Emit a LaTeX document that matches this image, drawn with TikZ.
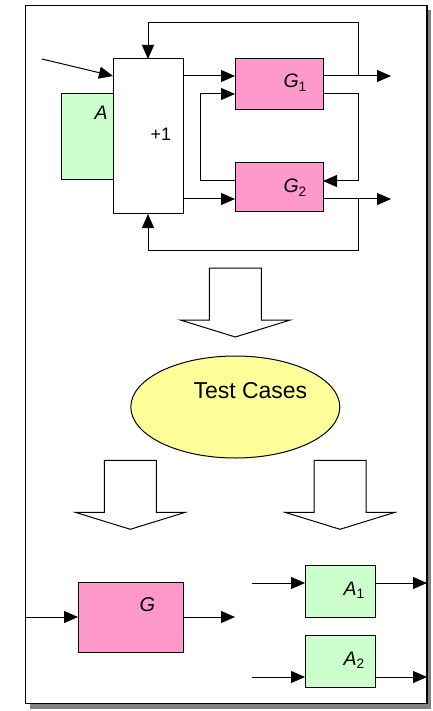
\documentclass[tikz,border=0pt]{standalone}
\usepackage{fontspec}
\setmainfont{Liberation Sans}
\usetikzlibrary{arrows.meta,calc,shapes.geometric}
\definecolor{pinkc}{HTML}{FF99CC}
\definecolor{greenc}{HTML}{CCFFCC}
\definecolor{yellowc}{HTML}{FFFF99}
\definecolor{shadowc}{HTML}{808080}
\tikzset{
  arr/.style={-{Triangle[length=14pt,width=12pt]}},
  box/.style={draw,line width=1pt,inner sep=0pt,outer sep=0pt,anchor=north west},
  pinkbox/.style={box,fill=pinkc},
  greenbox/.style={box,fill=greenc},
  whitebox/.style={box,fill=white},
  lbl/.style={anchor=base west,inner sep=0pt,font=\fontsize{19.5}{20}\selectfont},
  blockdown/.pic={\draw[fill=white,line width=1pt,line join=miter]
    (-26,-69) -- (26,-69) -- (26,-17) -- (55,-17) -- (0,0) -- (-55,-17) -- (-26,-17) -- cycle;}
}
\begin{document}
\begin{tikzpicture}[x=1pt,y=-1pt,line width=1pt]
\useasboundingbox (0,0) rectangle (432,711);
% frame with shadow
\fill[shadowc] (30,10.5) rectangle (431,708.5);
\node[draw,line width=1.3pt,fill=white,inner sep=0pt,outer sep=0pt,anchor=north west,
  minimum width=401.5pt,minimum height=698pt] (frame) at (25.5,5.5) {};

% top diagram boxes
\node[greenbox,minimum width=52pt,minimum height=86pt] (A) at (61,94) {};
\node[whitebox,minimum width=70pt,minimum height=155pt] (plus) at (113,59) {};
\node[pinkbox,minimum width=88pt,minimum height=51pt] (g1) at (235,59) {};
\node[pinkbox,minimum width=88pt,minimum height=49pt] (g2) at (235,163) {};
\node[lbl] (Alab) at (94,120) {\textit{A}};
\node[lbl,font=\fontsize{18}{20}\selectfont] (pluslab) at (150,141) {+1};
\node[lbl] (g1lab) at (283,88) {\textit{G}\textsubscript{1}};
\node[lbl] (g2lab) at (283,193) {\textit{G}\textsubscript{2}};

% top connectors
\coordinate (in0) at (42,59);
\coordinate (out1) at (391,76);
\coordinate (out2) at (391,199);
\draw[arr] (in0) -- ($(plus.north west)+(0,17)$);
\draw[arr] ($(plus.north east)+(0,17)$) -- ($(g1.north west)+(0,17)$);
\draw[arr] ($(plus.north east)+(0,140)$) -- ($(g2.north west)+(0,36)$);
\draw[arr] ($(g1.north east)+(0,17)$) -- (out1);
\draw[arr] ($(g2.north east)+(0,36)$) -- (out2);
\draw[arr] ($(g1.north east)+(35,17)$) -- ++(0,-53) -| (plus.north);
\draw[arr] ($(g2.north east)+(35,36)$) -- ++(0,51) -| (plus.south);
\draw[arr] ($(g1.north east)+(0,35)$) -- ++(35,0) |- ($(g2.north east)+(0,18)$);
\draw[arr] ($(g2.north west)+(0,18)$) -- ++(-35,0) |- ($(g1.north west)+(0,35)$);

% block arrows
\pic at (235.3,337) {blockdown};
\pic at (130.3,529.3) {blockdown};
\pic at (340,529.3) {blockdown};

% test cases
\node[ellipse,draw,line width=1pt,fill=yellowc,inner sep=0pt,minimum width=209pt,minimum height=102pt] (tc) at (235.3,407) {};
\node[lbl,font=\fontsize{23}{24}\selectfont] (tclab) at (193,398) {Test Cases};

% bottom boxes
\node[pinkbox,minimum width=105pt,minimum height=70pt] (G) at (78,582) {};
\node[greenbox,minimum width=70pt,minimum height=52pt] (a1) at (305,565) {};
\node[greenbox,minimum width=70pt,minimum height=52pt] (a2) at (305,635) {};
\node[lbl,font=\fontsize{20}{22}\selectfont] (Glab) at (139,611) {\textit{G}};
\node[lbl] (a1lab) at (343,595) {\textit{A}\textsubscript{1}};
\node[lbl] (a2lab) at (343,665) {\textit{A}\textsubscript{2}};

% bottom connectors
\coordinate (gout) at (235,617);
\coordinate (a1i) at (252,583);
\coordinate (a2i) at (252,677);
\coordinate (a1o) at ($(a1.north east)+(0,18)$);
\coordinate (a2o) at ($(a2.north east)+(0,42)$);
\draw[arr] (frame.west |- G.west) -- (G.west);
\draw[arr] (G.east) -- (gout);
\draw[arr] (a1i) -- (a1.west |- a1i);
\draw[arr] (a2i) -- (a2.west |- a2i);
\draw[arr] (a1o) -- (frame.east |- a1o);
\draw[arr] (a2o) -- (frame.east |- a2o);
\end{tikzpicture}
\end{document}
